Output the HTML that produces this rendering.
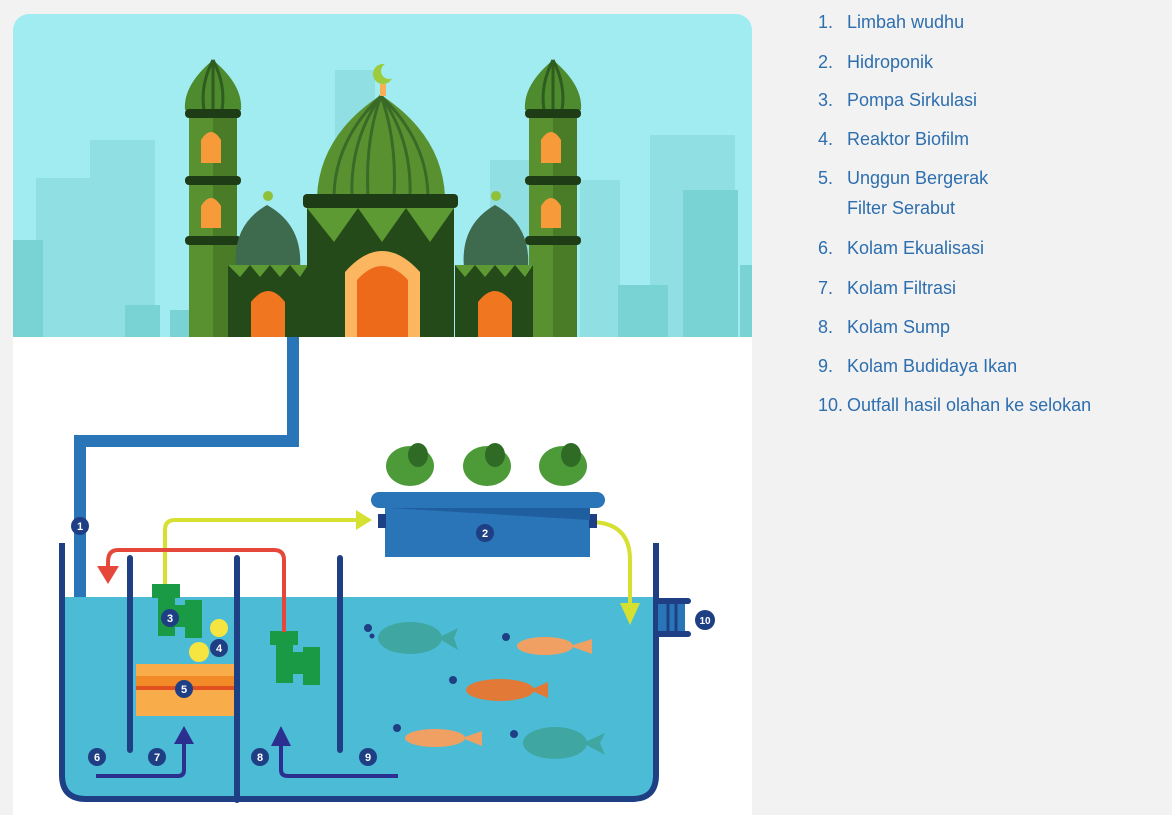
<!DOCTYPE html>
<html><head><meta charset="utf-8"><style>
html,body{margin:0;padding:0;background:#f2f2f2;width:1172px;height:815px;overflow:hidden;font-family:"Liberation Sans",sans-serif}
.leg{position:absolute;left:818px;color:#2d6eae;font-size:18px;white-space:nowrap}
.leg span{display:inline-block;width:29px}
</style></head><body>
<svg width="1172" height="815" style="position:absolute;left:0;top:0">
<defs><clipPath id="card"><rect x="13" y="14" width="739" height="820" rx="16"/></clipPath></defs>
<g clip-path="url(#card)">
<rect x="13" y="14" width="739" height="801" fill="#fff"/>
<rect x="13" y="14" width="739" height="323" fill="#a0ecf1"/>
<!-- skyline -->
<g fill="#8fdfe3">
<rect x="36" y="178" width="70" height="159"/><rect x="90" y="140" width="65" height="197"/><rect x="335" y="70" width="40" height="267"/>
<rect x="490" y="160" width="50" height="177"/><rect x="580" y="180" width="40" height="157"/><rect x="650" y="135" width="85" height="202"/>
</g>
<g fill="#79d3d4">
<rect x="13" y="240" width="30" height="97"/><rect x="125" y="305" width="35" height="32"/><rect x="170" y="310" width="30" height="27"/>
<rect x="618" y="285" width="50" height="52"/><rect x="683" y="190" width="55" height="147"/><rect x="740" y="265" width="12" height="72"/>
</g>
<!-- minarets -->
<g>
<path d="M213 60 Q183 85 185 110 L241 110 Q243 85 213 60Z" fill="#4e8a2e"/>
<path d="M213 60 Q200 85 204 110 M213 60 Q226 85 222 110 M213 62 L213 110" stroke="#2f5c1f" stroke-width="3" fill="none"/>
<rect x="185" y="109" width="56" height="9" rx="4" fill="#1e3d16"/>
<rect x="189" y="118" width="48" height="219" fill="#5a9130"/><rect x="213" y="118" width="24" height="219" fill="#4a7c28"/>
<rect x="185" y="176" width="56" height="9" rx="4" fill="#1e3d16"/><rect x="185" y="236" width="56" height="9" rx="4" fill="#1e3d16"/>
<path d="M201 163 L201 140 Q211 124 221 140 L221 163Z" fill="#f79a3a"/><path d="M201 228 L201 206 Q211 190 221 206 L221 228Z" fill="#f79a3a"/>
<path d="M553 60 Q523 85 525 110 L581 110 Q583 85 553 60Z" fill="#4e8a2e"/>
<path d="M553 60 Q540 85 544 110 M553 60 Q566 85 562 110 M553 62 L553 110" stroke="#2f5c1f" stroke-width="3" fill="none"/>
<rect x="525" y="109" width="56" height="9" rx="4" fill="#1e3d16"/>
<rect x="529" y="118" width="48" height="219" fill="#5a9130"/><rect x="553" y="118" width="24" height="219" fill="#4a7c28"/>
<rect x="525" y="176" width="56" height="9" rx="4" fill="#1e3d16"/><rect x="525" y="236" width="56" height="9" rx="4" fill="#1e3d16"/>
<path d="M541 163 L541 140 Q551 124 561 140 L561 163Z" fill="#f79a3a"/><path d="M541 228 L541 206 Q551 190 561 206 L561 228Z" fill="#f79a3a"/>
</g>
<!-- small domes -->
<path d="M267 205 Q232 225 236 268 L300 268 Q303 225 267 205Z" fill="#3e6a4e"/>
<path d="M495 205 Q460 225 464 268 L528 268 Q531 225 495 205Z" fill="#3e6a4e"/>
<circle cx="268" cy="196" r="5" fill="#8fc03a"/><circle cx="496" cy="196" r="5" fill="#8fc03a"/>
<rect x="228" y="265" width="80" height="72" fill="#244a1a"/><rect x="455" y="265" width="78" height="72" fill="#244a1a"/>
<path d="M228 265 L308 265 L300 277 L290 265 L280 277 L270 265 L260 277 L250 265 L240 277Z" fill="#5e9a34"/>
<path d="M455 265 L533 265 L525 277 L515 265 L505 277 L495 265 L485 277 L475 265 L465 277Z" fill="#5e9a34"/>
<path d="M251 337 L251 302 Q268 280 285 302 L285 337Z" fill="#f0761f"/>
<path d="M478 337 L478 302 Q495 280 512 302 L512 337Z" fill="#f0761f"/>
<!-- main dome -->
<path d="M381 95 Q320 135 317 196 L445 196 Q442 135 381 95Z" fill="#5a9130"/>
<path d="M381 96 Q350 140 352 196 M381 96 Q412 140 410 196 M381 96 Q365 140 368 196 M381 96 Q397 140 394 196 M381 96 Q335 140 334 196 M381 96 Q427 140 428 196" stroke="#3a6a28" stroke-width="3" fill="none"/>
<circle cx="383" cy="74" r="10" fill="#9ccc3c"/><circle cx="389" cy="71" r="8" fill="#a0ecf1"/>
<rect x="380" y="84" width="6" height="12" fill="#f7b056"/>
<rect x="303" y="194" width="155" height="14" rx="4" fill="#1e3d16"/>
<rect x="307" y="208" width="147" height="129" fill="#244a1a"/>
<path d="M307 208 L454 208 L430 242 L406 208 L382 242 L358 208 L334 242Z" fill="#5e9a34"/>
<path d="M345 337 L345 272 Q382 230 420 272 L420 337Z" fill="#fbb65f"/>
<path d="M357 337 L357 280 Q382 252 408 280 L408 337Z" fill="#ee6a1b"/>
<!-- pipe 1 -->
<path d="M293 337 L293 441 L80 441 L80 612" stroke="#2a74b8" stroke-width="12" fill="none"/>
<rect x="69" y="608" width="23" height="10" fill="#2a74b8"/>
<!-- water -->
<path d="M62 597 L655 597 L655 775 Q655 798 632 798 L85 798 Q62 798 62 775Z" fill="#4cbcd6"/>
<path d="M62 543 L62 775 Q62 799 86 799 L632 799 Q656 799 656 775 L656 543" stroke="#1f3f85" stroke-width="6" fill="none"/>
<line x1="130" y1="558" x2="130" y2="750" stroke="#1f3f85" stroke-width="6" stroke-linecap="round"/>
<line x1="237" y1="558" x2="237" y2="800" stroke="#1f3f85" stroke-width="6" stroke-linecap="round"/>
<line x1="340" y1="558" x2="340" y2="750" stroke="#1f3f85" stroke-width="6" stroke-linecap="round"/>
<!-- outfall -->
<rect x="656" y="598" width="35" height="6" rx="3" fill="#1f3f85"/><rect x="656" y="631" width="35" height="6" rx="3" fill="#1f3f85"/>
<rect x="658" y="604" width="27" height="27" fill="#2a74b8"/><path d="M668 604v27M676 604v27" stroke="#1f3f85" stroke-width="3"/>
<!-- filter 5 -->
<rect x="136" y="664" width="98" height="52" fill="#f9ad4a"/><rect x="136" y="676" width="98" height="10" fill="#f28a28"/><rect x="136" y="686" width="98" height="4" fill="#e2501f"/>
<!-- bubbles 4 -->
<circle cx="219" cy="628" r="9" fill="#f6e541"/><circle cx="199" cy="652" r="10" fill="#f6e541"/>
<!-- pumps -->
<g fill="#1b9a45"><rect x="152" y="584" width="28" height="14"/><rect x="158" y="598" width="17" height="38"/><rect x="175" y="605" width="10" height="22"/><rect x="185" y="600" width="17" height="38"/></g>
<g fill="#1b9a45"><rect x="270" y="631" width="28" height="14"/><rect x="276" y="645" width="17" height="38"/><rect x="293" y="652" width="10" height="22"/><rect x="303" y="647" width="17" height="38"/></g>
<!-- arrows -->
<path d="M165 584 L165 530 Q165 520 175 520 L358 520" stroke="#d6e031" stroke-width="4" fill="none"/>
<path d="M356 510 L372 520 L356 530Z" fill="#d6e031"/>
<path d="M590 522 Q630 522 630 560 L630 605" stroke="#d6e031" stroke-width="4" fill="none"/>
<path d="M620 603 L630 625 L640 603Z" fill="#d6e031"/>
<path d="M284 632 L284 560 Q284 550 274 550 L118 550 Q108 550 108 562 L108 570" stroke="#e5473a" stroke-width="4" fill="none"/>
<path d="M97 566 L108 584 L119 566Z" fill="#e5473a"/>
<path d="M96 776 L178 776 Q184 776 184 770 L184 740" stroke="#2b2f8f" stroke-width="4" fill="none"/>
<path d="M174 744 L184 726 L194 744Z" fill="#2b2f8f"/>
<path d="M398 776 L288 776 Q281 776 281 770 L281 745" stroke="#2b2f8f" stroke-width="4" fill="none"/>
<path d="M271 746 L281 726 L291 746Z" fill="#2b2f8f"/>
<!-- hydroponic -->
<rect x="385" y="505" width="205" height="52" fill="#2a74b8"/>
<rect x="378" y="514" width="8" height="14" fill="#1f3f85"/><rect x="589" y="514" width="8" height="14" fill="#1f3f85"/>
<path d="M390 508 L590 508 L590 520Z" fill="#1f5fa0"/>
<rect x="371" y="492" width="234" height="16" rx="8" fill="#2a74b8"/>
<g fill="#4c9a38"><ellipse cx="410" cy="466" rx="24" ry="20"/><ellipse cx="487" cy="466" rx="24" ry="20"/><ellipse cx="563" cy="466" rx="24" ry="20"/></g>
<g fill="#2f6b25"><ellipse cx="418" cy="455" rx="10" ry="12"/><ellipse cx="495" cy="455" rx="10" ry="12"/><ellipse cx="571" cy="455" rx="10" ry="12"/></g>
<!-- fish -->
<g fill="#3fa6a2"><ellipse cx="410" cy="638" rx="32" ry="16"/><path d="M438 638 L458 628 L454 638 L458 650Z"/><ellipse cx="555" cy="743" rx="32" ry="16"/><path d="M583 743 L605 733 L600 743 L605 755Z"/></g>
<g fill="#f0a062"><ellipse cx="545" cy="646" rx="28" ry="9"/><path d="M570 646 L592 639 L592 654Z"/><ellipse cx="435" cy="738" rx="30" ry="9"/><path d="M462 738 L482 731 L482 746Z"/></g>
<g fill="#e27936"><ellipse cx="500" cy="690" rx="34" ry="11"/><path d="M530 690 L548 682 L548 698Z"/></g>
<g fill="#1f3f85"><circle cx="368" cy="628" r="4"/><circle cx="372" cy="636" r="2.5"/><circle cx="506" cy="637" r="4"/><circle cx="453" cy="680" r="4"/><circle cx="397" cy="728" r="4"/><circle cx="514" cy="734" r="4"/></g>
<!-- number badges -->
<g font-family="Liberation Sans, sans-serif" font-weight="bold" font-size="11" fill="#fff" text-anchor="middle">
<g fill="#1f3f85"><circle cx="80" cy="526" r="9"/><circle cx="485" cy="533" r="9"/><circle cx="170" cy="618" r="9"/><circle cx="219" cy="648" r="9"/><circle cx="184" cy="689" r="9"/><circle cx="97" cy="757" r="9"/><circle cx="157" cy="757" r="9"/><circle cx="260" cy="757" r="9"/><circle cx="368" cy="757" r="9"/><circle cx="705" cy="620" r="10"/></g>
<text x="80" y="530">1</text><text x="485" y="537">2</text><text x="170" y="622">3</text><text x="219" y="652">4</text><text x="184" y="693">5</text><text x="97" y="761">6</text><text x="157" y="761">7</text><text x="260" y="761">8</text><text x="368" y="761">9</text><text x="705" y="624" font-size="10">10</text>
</g>
</g>
</svg>
<div class="leg" style="top:12px"><span>1.</span>Limbah wudhu</div>
<div class="leg" style="top:52px"><span>2.</span>Hidroponik</div>
<div class="leg" style="top:90px"><span>3.</span>Pompa Sirkulasi</div>
<div class="leg" style="top:129px"><span>4.</span>Reaktor Biofilm</div>
<div class="leg" style="top:168px"><span>5.</span>Unggun Bergerak</div>
<div class="leg" style="top:198px"><span></span>Filter Serabut</div>
<div class="leg" style="top:238px"><span>6.</span>Kolam Ekualisasi</div>
<div class="leg" style="top:278px"><span>7.</span>Kolam Filtrasi</div>
<div class="leg" style="top:317px"><span>8.</span>Kolam Sump</div>
<div class="leg" style="top:356px"><span>9.</span>Kolam Budidaya Ikan</div>
<div class="leg" style="top:395px"><span>10.</span>Outfall hasil olahan ke selokan</div>
</body></html>
